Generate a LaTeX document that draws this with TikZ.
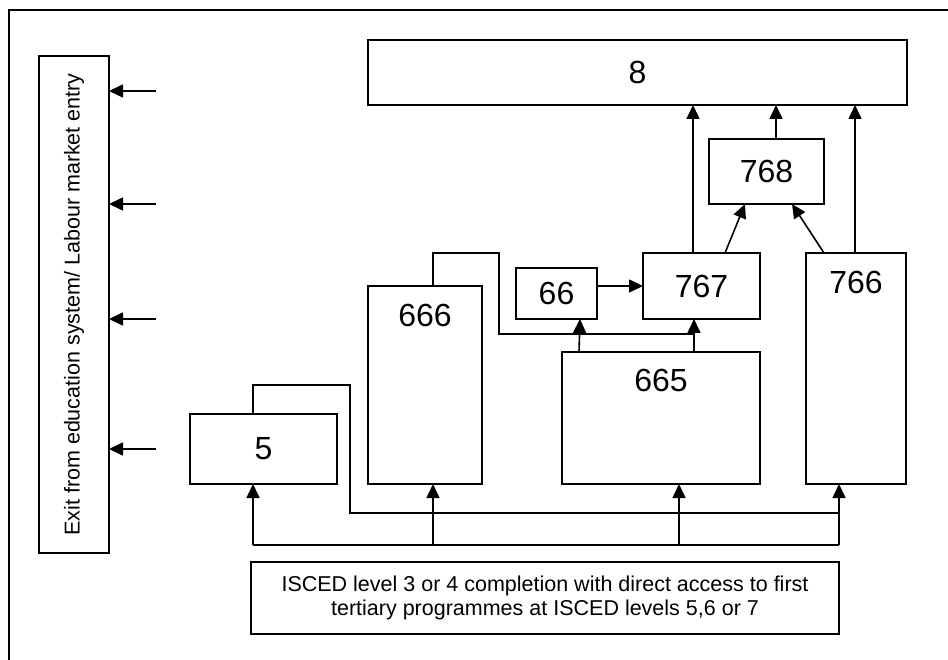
\documentclass[tikz,border=0pt]{standalone}
\usepackage{fontspec}
\setmainfont{Liberation Sans}
\usetikzlibrary{arrows.meta}
\begin{document}
\begin{tikzpicture}[x=1pt,y=-1pt,
  box/.style={draw, line width=1.6pt, inner sep=0pt, outer sep=0pt},
  num/.style={font=\fontsize{32}{38}\selectfont, inner sep=0pt},
  txt/.style={font=\fontsize{21.5}{24.5}\selectfont, align=center},
  link/.style={line width=1.6pt},
  arr/.style={line width=1.6pt, -{Triangle[length=14pt,width=13pt]}},
]
\useasboundingbox (0,0) rectangle (948,660);
% outer frame (left and top visible)
\draw[line width=1.6pt] (9,664) -- (9,10) -- (952,10);

% boxes
\node[box, txt, rotate=90, minimum width=497, minimum height=70] (exit) at (74,304.5) {Exit from education system/ Labour market entry};
\node[box, num, minimum width=539, minimum height=65] (b8) at (637.5,72.5) {8};
\node[box, num, minimum width=115, minimum height=65] (b768) at (766.5,171.5) {768};
\node[box, num, minimum width=117, minimum height=66] (b767) at (701.5,286) {767};
\node[box, minimum width=100, minimum height=231] (b766) at (856,368.5) {};
\node[box, num, minimum width=81, minimum height=51] (b66) at (556.5,293.5) {66};
\node[box, minimum width=114, minimum height=198] (b666) at (425,385) {};
\node[box, minimum width=198, minimum height=132] (b665) at (661,418) {};
\node[box, num, minimum width=147, minimum height=70] (b5) at (263.5,449) {5};
\node[box, txt, minimum width=588, minimum height=72] (isced) at (545,598) {ISCED level 3 or 4 completion with direct access to first\\tertiary programmes at ISCED levels 5,6 or 7};

% labels of the tall boxes
\node[num] (l766) at (856,282) {766};
\node[num] (l666) at (425,315) {666};
\node[num] (l665) at (661,380) {665};

% exit arrows
\coordinate (e1) at (156,91);
\coordinate (e2) at (156,204);
\coordinate (e3) at (156,319);
\coordinate (e4) at (156,449);
\foreach \e in {e1,e2,e3,e4} \draw[arr] (\e) -- (exit.south |- \e);

% bottom distribution line
\coordinate (j5) at (253,545);
\coordinate (j666) at (433,545);
\coordinate (j665) at (679,545);
\coordinate (j766) at (839,545);
\draw[link] (j5) -- (j766);
\draw[arr] (j5) -- (j5 |- b5.south);
\draw[arr] (j666) -- (j666 |- b666.south);
\draw[arr] (j665) -- (j665 |- b665.south);
\draw[arr] (j766) -- (j766 |- b766.south);

% loop from 5 to the 766 line
\draw[link] (b5.north -| j5) |- (350,385) |- (839,513);
% loop from 666 to the 767 line
\draw[link] (b666.north -| j666) |- (499,253) |- (694,334);

% 665 to 66 and 767
\draw[arr] (b665.north -| 579,0) -- (b66.south -| 580,0);
\draw[arr] (b665.north -| 694,0) -- (b767.south -| 694,0);
% 66 to 767
\draw[arr] (b66.east |- 0,286) -- (b767.west |- 0,286);
% into 768
\draw[arr] (b767.north -| 725,0) -- (b768.south -| 745,0);
\draw[arr] (b766.north -| 824,0) -- (b768.south -| 792,0);
% into 8
\draw[arr] (b767.north -| 693,0) -- (b8.south -| 693,0);
\draw[arr] (b768.north -| 776,0) -- (b8.south -| 776,0);
\draw[arr] (b766.north -| 855,0) -- (b8.south -| 855,0);
\end{tikzpicture}
\end{document}
